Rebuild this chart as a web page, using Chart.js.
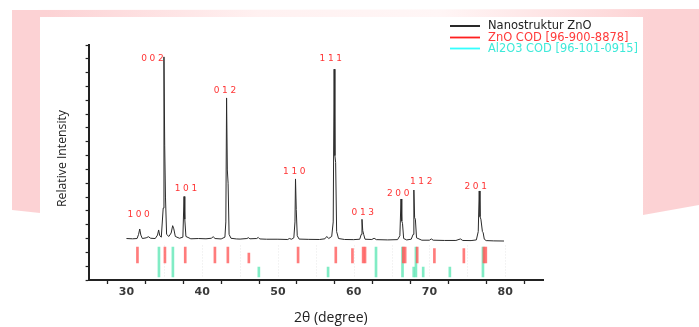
<!DOCTYPE html>
<html>
<head>
<meta charset="utf-8">
<script src="https://cdn.jsdelivr.net/npm/chart.js@4.4.1/dist/chart.umd.min.js"></script>
<style>
  html,body{margin:0;padding:0;}
  body{width:699px;height:327px;position:relative;overflow:hidden;background:#fff;}
  #band{position:absolute;left:12px;top:9px;width:687px;height:206px;
    background:linear-gradient(to right,#fcd2d4 0%,#fcd2d4 5%,#fff1f1 36%,#fff6f6 62%,#fdd9da 88%,#fcd2d4 93%,#fcd2d4 100%);
    clip-path:polygon(0 1px,100% 0,100% 196px,631px 206px,28px 204px,0 201px);}
  #panel{position:absolute;left:40px;top:17px;width:603px;height:310px;background:#fff;}
  #c{position:absolute;left:0;top:0;}
</style>
</head>
<body>
<div id="band"></div>
<div id="panel"></div>
<canvas id="c" width="699" height="327"></canvas>
<script>
// ---- data ----
const twoTheta = [30.0,30.8,31.4,31.6,31.75,31.9,32.1,32.6,32.9,33.2,33.8,34.1,34.25,34.4,34.6,34.85,34.95,35.05,35.15,35.3,35.6,35.9,36.1,36.25,36.45,37.0,37.45,37.6,37.7,37.85,38.5,39.5,40.5,41.2,41.45,41.7,42.5,43.0,43.12,43.22,43.32,43.42,43.55,43.8,44.5,45.0,45.9,46.1,46.3,47.2,47.4,47.6,48.5,50.0,51.3,51.5,51.8,52.1,52.25,52.32,52.42,52.55,52.8,54.0,55.5,56.2,56.45,56.7,57.1,57.3,57.42,57.52,57.62,57.75,58.0,58.8,60.0,60.8,61.0,61.1,61.2,61.32,61.5,62.4,62.7,63.0,64.5,65.8,66.1,66.25,66.35,66.45,66.6,67.0,67.6,67.85,67.95,68.05,68.15,68.3,69.0,70.0,70.25,70.5,72.0,73.5,74.1,74.4,75.5,76.2,76.45,76.58,76.68,76.8,77.0,77.1,77.25,77.5,78.5,79.85];
const intensity = [3.00,2.98,3.00,3.30,3.69,3.25,3.00,3.05,3.13,3.02,3.00,3.25,3.62,3.20,3.10,5.20,16.14,9.70,6.00,3.30,3.15,3.40,3.93,3.70,3.15,3.02,3.10,6.04,4.40,3.15,2.98,3.00,2.98,3.02,3.13,3.00,2.97,3.10,4.20,13.17,7.96,7.00,3.30,3.02,2.97,2.96,3.00,3.06,2.98,3.00,3.08,2.97,2.95,2.95,2.93,3.00,2.95,3.05,4.20,7.31,5.10,3.20,2.96,2.94,2.93,2.98,3.15,3.00,3.15,4.20,15.25,9.00,8.50,3.50,3.00,2.93,2.92,2.95,3.30,4.39,3.57,3.30,2.95,2.93,3.02,2.92,2.90,2.92,3.20,5.86,4.27,4.10,3.00,2.90,2.95,3.30,6.51,4.50,4.40,3.05,2.88,2.88,2.97,2.88,2.86,2.86,2.97,2.86,2.85,2.90,3.50,6.44,4.58,4.40,3.50,3.42,2.95,2.85,2.83,2.82];

const znoRefPos = [31.45,35.08,37.76,41.68,43.39,46.16,52.66,57.64,59.84,61.25,61.5,66.55,66.8,68.39,70.66,74.55,77.2,77.45];
const znoRefRel = [1,1,1,1,1,0.62,1,1,0.9,1,1,1,1,1,0.9,0.9,1,1];
const alRefPos = [34.29,36.13,47.48,56.62,62.95,66.45,67.93,68.22,69.18,72.7,77.07];
const alRefRel = [1,1,0.33,0.33,1,1,0.33,1,0.33,0.33,1];

const xTickLabels = [30,40,50,60,70,80];
const peakLabels = ['100','002','101','012','110','111','013','200','112','201'];
const peakLabelX = [31.61,33.43,37.85,43.0,52.16,56.98,61.2,65.88,68.92,76.11];
const peakLabelY = [4.70,15.99,6.58,13.68,7.81,15.99,4.85,6.24,7.09,6.75];

const legendLabels = ['Nanostruktur ZnO','ZnO COD [96-900-8878]','Al2O3 COD [96-101-0915]'];
const xTitle = '2θ (degree)';
const yTitle = 'Relative Intensity';

// ---- styles ----
const LINE_COLOR = '#2a2a2a';
const RED = 'rgba(255,80,80,0.75)';
const GREEN = 'rgba(80,228,175,0.72)';
const RED_BASE = 1.23, RED_H = 1.16;
const GREEN_BASE = 0.22, GREEN_H = 2.17;

const decoPlugin = {
  id: 'deco',
  beforeDatasetsDraw(chart) {
    const ctx = chart.ctx, xs = chart.scales.x, ys = chart.scales.y;
    ctx.save();
    ctx.strokeStyle = '#e8e8e8';
    ctx.lineWidth = 1;
    ctx.setLineDash([1, 2]);
    for (let v = 35; v <= 80; v += 5) {
      const px = Math.round(xs.getPixelForValue(v)) + 0.5;
      ctx.beginPath();
      ctx.moveTo(px, ys.getPixelForValue(2.5));
      ctx.lineTo(px, ys.getPixelForValue(0.15));
      ctx.stroke();
    }
    ctx.restore();
  },
  afterDraw(chart) {
    const ctx = chart.ctx, xs = chart.scales.x, ys = chart.scales.y, ca = chart.chartArea;
    ctx.save();
    // peak labels
    ctx.fillStyle = '#ff3434';
    ctx.font = '9px "DejaVu Sans"';
    ctx.textBaseline = 'middle';
    ctx.textAlign = 'left';
    peakLabels.forEach((t, i) => {
      const cx = xs.getPixelForValue(peakLabelX[i]);
      const cy = ys.getPixelForValue(peakLabelY[i]);
      const gap = 2.6;
      let w = 0;
      for (const ch of t) w += ctx.measureText(ch).width;
      w += gap * (t.length - 1);
      let x = cx - w / 2;
      for (const ch of t) { ctx.fillText(ch, x, cy); x += ctx.measureText(ch).width + gap; }
    });
    // legend
    const lc = ['#111111', '#ff1f1f', '#33ffff'];
    const tc = ['#222222', '#ff3b3b', '#3ee9d9'];
    const ly = [26, 37.5, 48.5];
    ctx.font = '11.5px "DejaVu Sans"';
    legendLabels.forEach((t, i) => {
      ctx.strokeStyle = lc[i];
      ctx.lineWidth = 1.8;
      ctx.beginPath(); ctx.moveTo(450, ly[i]); ctx.lineTo(480, ly[i]); ctx.stroke();
      ctx.fillStyle = tc[i];
      ctx.fillText(t, 488, ly[i] + 0.5, 150);
    });
    // axis titles
    ctx.fillStyle = '#222';
    ctx.textAlign = 'center';
    ctx.font = '14px "Open Sans"';
    ctx.fillText(xTitle, (ca.left + ca.right) / 2 + 15, 318, 86);
    ctx.translate(62, 158.5);
    ctx.rotate(-Math.PI / 2);
    ctx.font = '13px "Open Sans"';
    ctx.fillText(yTitle, 0, 0, 97);
    ctx.restore();
  }
};

new Chart(document.getElementById('c'), {
  type: 'line',
  data: {
    datasets: [
      {
        type: 'line',
        label: legendLabels[0],
        data: twoTheta.map((x, i) => ({ x, y: intensity[i] })),
        borderColor: LINE_COLOR,
        borderWidth: 1,
        pointRadius: 0,
        tension: 0,
        fill: false
      },
      {
        type: 'bar',
        label: legendLabels[1],
        data: znoRefPos.map((x, i) => ({ x, y: [RED_BASE, RED_BASE + RED_H * znoRefRel[i]] })),
        backgroundColor: RED,
        barThickness: 2,
        grouped: false,
        borderWidth: 0
      },
      {
        type: 'bar',
        label: legendLabels[2],
        data: alRefPos.map((x, i) => ({ x, y: [GREEN_BASE, GREEN_BASE + GREEN_H * alRefRel[i]] })),
        backgroundColor: GREEN,
        barThickness: 2,
        grouped: false,
        borderWidth: 0
      }
    ]
  },
  options: {
    responsive: false,
    animation: false,
    devicePixelRatio: 1,
    layout: { padding: { left: 84.6, right: 156, top: 45, bottom: 27 } },
    plugins: { legend: { display: false }, tooltip: { enabled: false } },
    scales: {
      x: {
        type: 'linear',
        min: 25, max: 85,
        offset: false,
        afterFit(s) { s.height = 20; },
        ticks: {
          stepSize: 5,
          autoSkip: false,
          maxRotation: 0,
          padding: 2,
          color: '#3a3a3a',
          font: { family: '"DejaVu Sans"', size: 11, weight: 'bold' },
          callback: (v) => xTickLabels.includes(v) ? String(v) : ''
        },
        grid: { drawOnChartArea: false, drawTicks: true, tickLength: 4, color: '#222', tickWidth: 1.3 },
        border: { display: true, color: '#222', width: 2 }
      },
      y: {
        type: 'linear',
        min: 0, max: 17,
        afterFit(s) { s.width = 4; },
        ticks: { stepSize: 1, display: false },
        grid: { drawOnChartArea: false, drawTicks: true, tickLength: 3, color: '#222', tickWidth: 1.2 },
        border: { display: true, color: '#222', width: 2 }
      }
    }
  },
  plugins: [decoPlugin]
});
</script>
</body>
</html>
